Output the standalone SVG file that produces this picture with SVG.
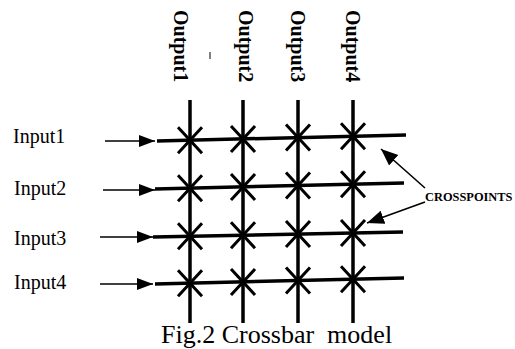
<svg xmlns="http://www.w3.org/2000/svg" width="515" height="349" viewBox="0 0 515 349">
<style>
.lbl{font-family:"Liberation Serif","Times New Roman",serif;font-size:20px;fill:#000}
.out{font-family:"Liberation Serif","Times New Roman",serif;font-size:20px;font-weight:bold;fill:#000}
.cp{font-family:"Liberation Serif","Times New Roman",serif;font-size:12.4px;font-weight:bold;fill:#000}
.cap{font-family:"Liberation Serif","Times New Roman",serif;font-size:26px;fill:#000}
.bus{stroke:#000;stroke-width:3.5;fill:none}
.thin{stroke:#000;stroke-width:1.6;fill:none}
.x{stroke:#000;stroke-width:3;fill:none}
</style>
<defs>
<marker id="ah" markerUnits="userSpaceOnUse" markerWidth="18" markerHeight="14" refX="16" refY="6" orient="auto">
<path d="M0,0 L16,6 L0,12 Z" fill="#000"/>
</marker>
<marker id="ah2" markerUnits="userSpaceOnUse" markerWidth="20" markerHeight="16" refX="17" refY="7" orient="auto">
<path d="M0,0 L17,7 L0,14 Z" fill="#000"/>
</marker>
<path id="cross" d="M-12,-13 L12,13 M12,-13 L-12,13"/>
</defs>
<rect width="515" height="349" fill="#fff"/>
<g id="outputs">
<text class="out" transform="translate(174,10) rotate(90)">Output1</text>
<text class="out" transform="translate(239,10) rotate(90)">Output2</text>
<text class="out" transform="translate(291,10) rotate(90)">Output3</text>
<text class="out" transform="translate(346,10) rotate(90)">Output4</text>
<line x1="210" y1="52" x2="210" y2="59" stroke="#000" stroke-width="1"/>
</g>
<g id="inputs">
<text class="lbl" x="13" y="143">Input1</text>
<text class="lbl" x="14" y="195">Input2</text>
<text class="lbl" x="14" y="245">Input3</text>
<text class="lbl" x="14" y="289">Input4</text>
</g>
<g id="connectors">
<line class="thin" x1="105" y1="141" x2="155" y2="141" marker-end="url(#ah)"/>
<line class="thin" x1="103" y1="190" x2="155" y2="190" marker-end="url(#ah)"/>
<line class="thin" x1="100" y1="237" x2="153" y2="237" marker-end="url(#ah)"/>
<line class="thin" x1="100" y1="284" x2="153" y2="284" marker-end="url(#ah)"/>
<line class="thin" x1="425" y1="188" x2="381" y2="149" marker-end="url(#ah2)"/>
<line class="thin" x1="425" y1="202" x2="367" y2="223" marker-end="url(#ah2)"/>
</g>
<g id="crossbar">
<line class="bus" x1="157" y1="141" x2="406" y2="135"/>
<line class="bus" x1="155" y1="189" x2="404" y2="183"/>
<line class="bus" x1="153" y1="237" x2="403" y2="232"/>
<line class="bus" x1="155" y1="284" x2="404" y2="278"/>
<line class="bus" x1="190" y1="100" x2="190" y2="323"/>
<line class="bus" x1="243" y1="100" x2="243" y2="323"/>
<line class="bus" x1="298" y1="100" x2="298" y2="323"/>
<line class="bus" x1="353" y1="100" x2="353" y2="323"/>
</g>
<g id="crosspoints" class="x">
<use href="#cross" x="190" y="140.2"/>
<use href="#cross" x="243" y="139"/>
<use href="#cross" x="298" y="137.6"/>
<use href="#cross" x="353" y="136.3"/>
<use href="#cross" x="190" y="188.2"/>
<use href="#cross" x="243" y="187"/>
<use href="#cross" x="298" y="185.6"/>
<use href="#cross" x="353" y="184.3"/>
<use href="#cross" x="190" y="236.3"/>
<use href="#cross" x="243" y="235.2"/>
<use href="#cross" x="298" y="234.1"/>
<use href="#cross" x="353" y="233"/>
<use href="#cross" x="190" y="283.2"/>
<use href="#cross" x="243" y="282"/>
<use href="#cross" x="298" y="280.6"/>
<use href="#cross" x="353" y="279.3"/>
</g>
<g id="label-crosspoints">
<text class="cp" x="425" y="201">CROSSPOINTS</text>
</g>
<g id="caption">
<text class="cap" x="161" y="343" xml:space="preserve">Fig.2 Crossbar  model</text>
</g>
</svg>
